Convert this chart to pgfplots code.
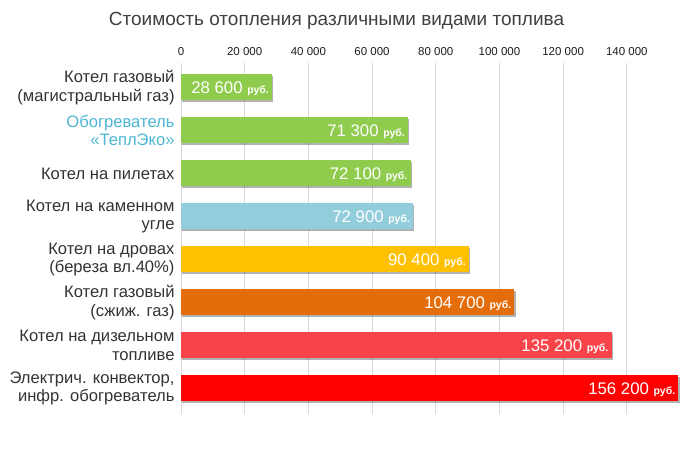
\documentclass[border=0pt]{standalone}
\usepackage{pgfplots}
\pgfplotsset{compat=1.18}
\usepackage{fontspec}
\setmainfont{Liberation Sans}
\usetikzlibrary{shadows}
\definecolor{cgreen}{HTML}{8FCB4C}
\definecolor{cblue}{HTML}{92CDDC}
\definecolor{cyellow}{HTML}{FFC000}
\definecolor{corange}{HTML}{E46C0A}
\definecolor{cpink}{HTML}{F84448}
\definecolor{cred}{HTML}{FF0000}
\definecolor{ctitle}{HTML}{404040}
\definecolor{clabel}{HTML}{333333}
\definecolor{cteplo}{HTML}{4DB6D3}
\definecolor{cgrid}{HTML}{D9D9D9}
\definecolor{ctick}{HTML}{1E1E1E}
\begin{document}
\begin{tikzpicture}
\useasboundingbox (0,0) rectangle (680pt,-460pt);
\node[font=\fontsize{19}{22}\selectfont, text=ctitle] at (336.5pt,-21pt) {Стоимость отопления различными видами топлива};
\begin{axis}[
  at={(181pt,-63pt)}, anchor=north west,
  scale only axis, width=499pt, height=351pt,
  xmin=0, xmax=156700, ymin=-0.57, ymax=7.6, y dir=reverse,
  xbar, bar width=26pt, bar shift=0pt,
  axis line style={draw=none}, major tick style={draw=none},
  scaled x ticks=false,
  xtick={0,20000,40000,60000,80000,100000,120000,140000},
  xticklabels={0,20 000,40 000,60 000,80 000,100 000,120 000,140 000},
  xticklabel pos=upper,
  xticklabel style={font=\fontsize{11.5}{12}\selectfont, text=ctick, inner sep=0pt, yshift=7.5pt},
  xmajorgrids, grid style={cgrid, line width=0.8pt},
  ytick={0,1,2,3,4,5,6,7},
  yticklabels={
    {Котел газовый\\(магистральный газ)},
    {\color{cteplo}Обогреватель\\\color{cteplo}«ТеплЭко»},
    {Котел на пилетах},
    {Котел на каменном\\угле},
    {Котел на дровах\\(береза вл.40\%)},
    {Котел газовый\\(сжиж. газ)},
    {Котел на дизельном\\топливе},
    {Электрич. конвектор,\\инфр. обогреватель}},
  yticklabel style={align=right, font=\fontsize{16.6}{18.5}\selectfont, text=clabel, inner sep=0pt, xshift=-2pt},
  clip=false,
  point meta=explicit symbolic,
  nodes near coords={\fontsize{16.8}{17}\selectfont\pgfplotspointmeta\ {\fontsize{10.5}{11}\selectfont\bfseries руб.}},
  nodes near coords align={anchor=base east},
  every node near coord/.append style={text=white, inner sep=0pt, xshift=-3pt, yshift=-6pt},
  barsh/.style={draw=none, drop shadow={shadow xshift=1.2pt, shadow yshift=-2pt, opacity=0.3, fill=black}},
]
\addplot[barsh, fill=cgreen] coordinates {(28600,0) [28 600]};
\addplot[barsh, fill=cgreen] coordinates {(71300,1) [71 300]};
\addplot[barsh, fill=cgreen] coordinates {(72100,2) [72 100]};
\addplot[barsh, fill=cblue] coordinates {(72900,3) [72 900]};
\addplot[barsh, fill=cyellow] coordinates {(90400,4) [90 400]};
\addplot[barsh, fill=corange] coordinates {(104700,5) [104 700]};
\addplot[barsh, fill=cpink] coordinates {(135200,6) [135 200]};
\addplot[barsh, fill=cred] coordinates {(156200,7) [156 200]};
\end{axis}
\end{tikzpicture}
\end{document}
